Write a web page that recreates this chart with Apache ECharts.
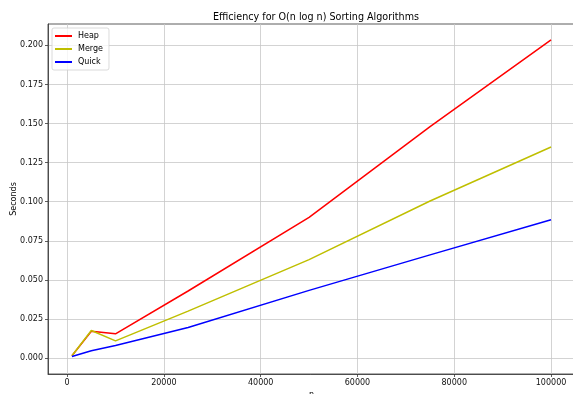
<!DOCTYPE html>
<html>
<head>
<meta charset="utf-8">
<script src="https://cdn.jsdelivr.net/npm/echarts@6/dist/echarts.min.js"></script>
<style>html,body{margin:0;padding:0;background:#fff;}#c{width:573px;height:394px;}</style>
</head>
<body>
<div id="c"></div>
<script>
const sizes = [1000, 5000, 10000, 25000, 50000, 75000, 100000];
const heap  = [0.0015, 0.0172, 0.0155, 0.0429, 0.0900, 0.1480, 0.2035];
const merge = [0.0015, 0.0176, 0.0110, 0.0300, 0.0630, 0.1005, 0.1350];
const quick = [0.0010, 0.0047, 0.0080, 0.0195, 0.0433, 0.0660, 0.0885];
const xTicks = [0, 20000, 40000, 60000, 80000, 100000];
const yTicks = [0, 0.025, 0.05, 0.075, 0.1, 0.125, 0.15, 0.175, 0.2];

const font = 'DejaVu Sans';
const chart = echarts.init(document.getElementById('c'), null, {renderer: 'canvas'});
const pair = a => sizes.map((s, i) => [s, a[i]]);
const mk = (name, data, color) => ({
  name, type: 'line', data: pair(data), showSymbol: false, symbol: 'none',
  lineStyle: {color, width: 1.5}, itemStyle: {color}, animation: false
});
chart.setOption({
  animation: false,
  title: {text: 'Efficiency for O(n log n) Sorting Algorithms', left: 311, top: 7, textAlign: 'center',
    textStyle: {fontFamily: font, fontSize: 9.6, fontWeight: 'normal', color: '#000'}},
  legend: {left: 52, top: 28, orient: 'vertical', itemWidth: 17, itemHeight: 2, itemGap: 5,
    padding: [4, 6, 4, 3], borderColor: '#d0d0d0', borderWidth: 0.8, borderRadius: 2,
    backgroundColor: 'rgba(255,255,255,0.8)',
    icon: 'rect',
    textStyle: {fontFamily: font, fontSize: 8, color: '#000', padding: [0, 0, 0, 1]},
    data: ['Heap', 'Merge', 'Quick']},
  grid: {left: 48, top: 24, width: 527, height: 350, show: true, borderColor: '#333', borderWidth: 0.8,
    containLabel: false, outerBoundsMode: 'none'},
  xAxis: {type: 'value', min: -3950, max: 104950, name: 'n', nameLocation: 'middle', nameGap: 17,
    nameMoveOverlap: false,
    nameTextStyle: {fontFamily: font, fontSize: 8, color: '#000'},
    axisLine: {onZero: false, lineStyle: {color: '#333', width: 0.8}},
    axisTick: {show: true, length: 3, customValues: xTicks, lineStyle: {color: '#333', width: 0.8}},
    axisLabel: {customValues: xTicks, fontFamily: font, fontSize: 8, color: '#111', margin: 5,
      formatter: v => String(v)},
    splitLine: {show: true, lineStyle: {color: '#c8c8c8', width: 0.8}}},
  yAxis: {type: 'value', min: -0.0102, max: 0.2137, name: 'Seconds', nameLocation: 'middle', nameGap: 30,
    nameMoveOverlap: false,
    nameTextStyle: {fontFamily: font, fontSize: 8, color: '#000'},
    axisLine: {onZero: false, lineStyle: {color: '#333', width: 0.8}},
    axisTick: {show: true, length: 3, customValues: yTicks, lineStyle: {color: '#333', width: 0.8}},
    axisLabel: {customValues: yTicks, fontFamily: font, fontSize: 8, color: '#111', margin: 5,
      formatter: v => v.toFixed(3)},
    splitLine: {show: true, lineStyle: {color: '#c8c8c8', width: 0.8}}},
  series: [mk('Heap', heap, '#ff0000'), mk('Merge', merge, '#bfbf00'), mk('Quick', quick, '#0000ff')]
});
</script>
</body>
</html>
